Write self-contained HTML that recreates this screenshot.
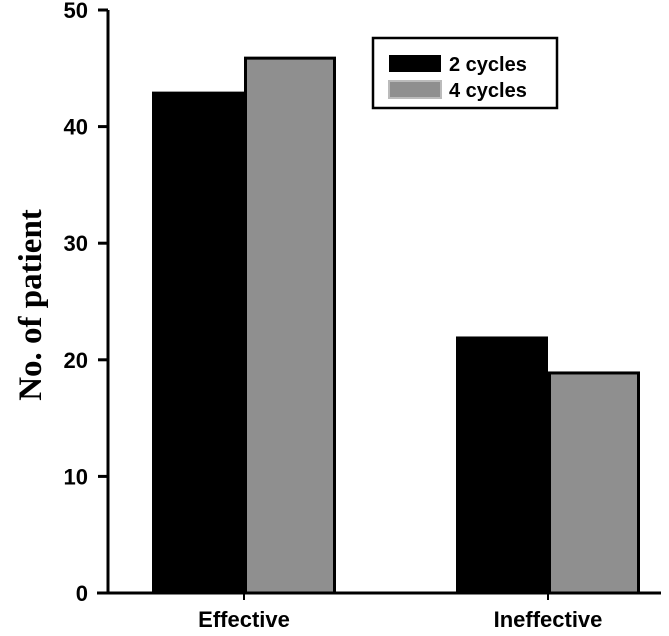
<!DOCTYPE html>
<html><head><meta charset="utf-8"><style>body{margin:0;background:#fff}svg{display:block}</style></head>
<body>
<svg id="chart" width="669" height="636" viewBox="0 0 669 636" font-family="Liberation Sans, sans-serif">
<text transform="translate(41,305) rotate(-90)" text-anchor="middle" font-family="Liberation Serif, serif" font-weight="bold" font-size="33">No. of patient</text>
<g id="axes"></g><g id="bars"></g>
<g>
<rect x="373" y="38" width="184" height="70" fill="#fff" stroke="#000" stroke-width="2.5"/>
<rect x="389" y="55" width="52" height="17" fill="#000"/>
<text x="449" y="71" font-size="20" font-weight="bold">2 cycles</text>
<rect x="389" y="81" width="52" height="17" fill="#8f8f8f" stroke="#bbb" stroke-width="2"/>
<text x="449" y="97" font-size="20" font-weight="bold">4 cycles</text>
</g>
</svg>
<script>
const categories=["Effective","Ineffective"];
const series2=[43,22];
const series4=[46,19];
const yTicks=[0,10,20,30,40,50];
const NS="http://www.w3.org/2000/svg";
const y=v=>593-v*(583/50);
const center=[244,548], bw=92;
function mk(t,a,p){const e=document.createElementNS(NS,t);for(const k in a)e.setAttribute(k,a[k]);p.appendChild(e);return e;}
const ax=document.getElementById('axes'),bg=document.getElementById('bars');
let l=mk('line',{x1:108,y1:y(50),x2:108,y2:594,stroke:'#000','stroke-width':3},ax);


l=mk('line',{x1:97,y1:593,x2:661,y2:593,stroke:'#000','stroke-width':3},ax);


yTicks.forEach(v=>{
 const t=mk('line',{x1:98,y1:y(v),x2:108,y2:y(v),stroke:'#000','stroke-width':3},ax);
 
 
 const tx=mk('text',{x:88,y:y(v)+8,'text-anchor':'end','font-size':22,'font-weight':'bold'},ax);
 tx.textContent=v;
 
 
});
categories.forEach((c,i)=>{
 const cx=center[i];
 const t=mk('line',{x1:cx,y1:593,x2:cx,y2:600,stroke:'#000','stroke-width':2},ax);
 
 
 const tx=mk('text',{x:cx,y:627,'text-anchor':'middle','font-size':22,'font-weight':'bold'},ax);
 tx.textContent=c;
 
 
 const b1=mk('rect',{x:cx-bw,y:y(series2[i]),width:bw,height:593-y(series2[i]),fill:'#000'},bg);
 
 
 const b2=mk('rect',{x:cx+1.5,y:y(series4[i])+1.5,width:bw-3,height:593-y(series4[i])-1.5,fill:'#8f8f8f',stroke:'#000','stroke-width':3},bg);
 
 
});
</script>
</body></html>
